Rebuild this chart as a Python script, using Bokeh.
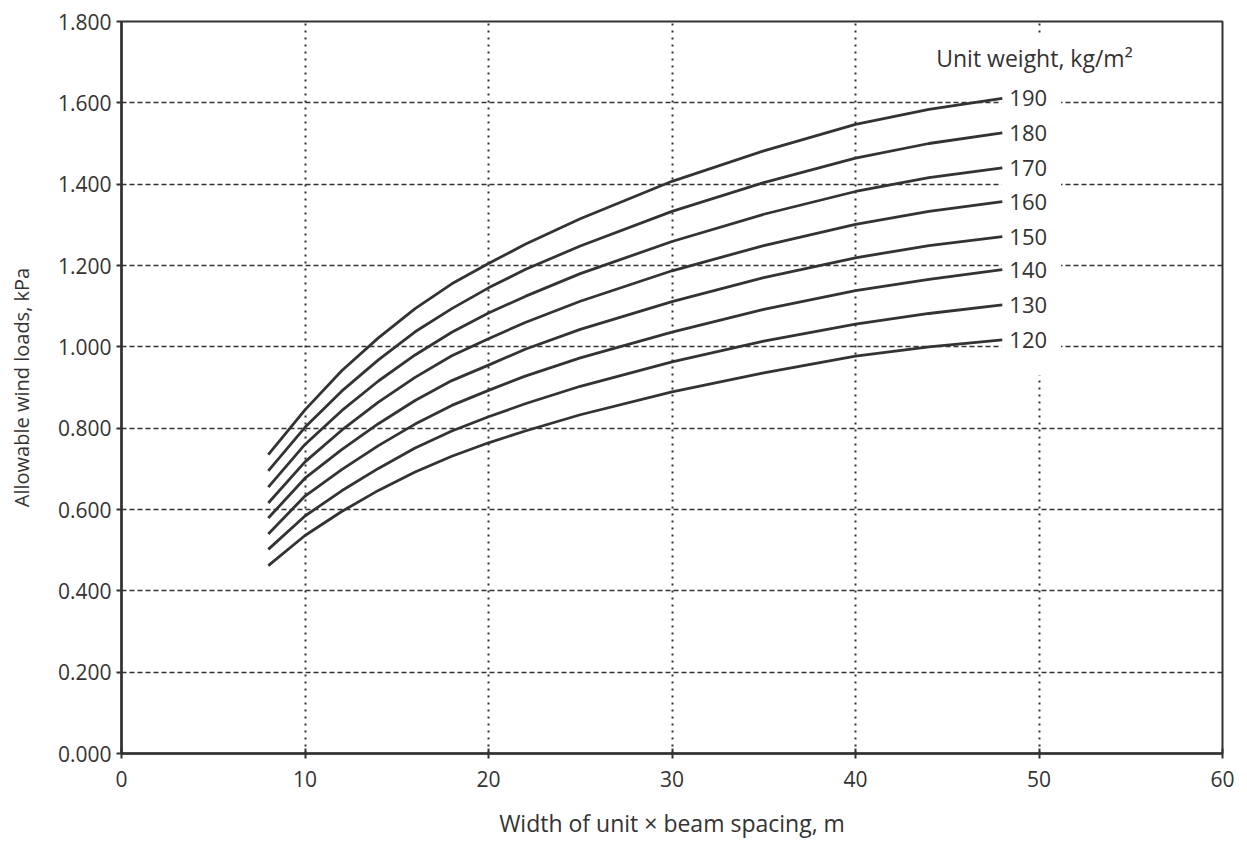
from bokeh.plotting import figure
from bokeh.models import (ColumnDataSource, LabelSet, Label, BoxAnnotation,
                          FixedTicker, NumeralTickFormatter)
from bokeh.core.properties import value
from bokeh.embed import file_html
from bokeh.resources import INLINE

# ---- data ----
x_span = [8, 10, 12, 14, 16, 18, 20, 22, 25, 30, 35, 40, 44, 48]
w190 = [0.735, 0.845, 0.941, 1.022, 1.094, 1.155, 1.205, 1.252, 1.315, 1.407, 1.482, 1.547, 1.584, 1.611]
w180 = [0.695, 0.802, 0.891, 0.968, 1.037, 1.094, 1.145, 1.190, 1.248, 1.333, 1.404, 1.464, 1.500, 1.526]
w170 = [0.655, 0.760, 0.843, 0.916, 0.980, 1.036, 1.083, 1.124, 1.180, 1.259, 1.326, 1.382, 1.416, 1.440]
w160 = [0.616, 0.717, 0.795, 0.864, 0.925, 0.978, 1.020, 1.060, 1.112, 1.187, 1.249, 1.301, 1.333, 1.357]
w150 = [0.579, 0.677, 0.747, 0.811, 0.868, 0.917, 0.955, 0.994, 1.043, 1.111, 1.170, 1.219, 1.249, 1.271]
w140 = [0.540, 0.633, 0.698, 0.757, 0.810, 0.856, 0.893, 0.928, 0.973, 1.036, 1.092, 1.138, 1.166, 1.190]
w130 = [0.502, 0.584, 0.646, 0.701, 0.751, 0.793, 0.828, 0.860, 0.903, 0.963, 1.014, 1.056, 1.082, 1.103]
w120 = [0.462, 0.536, 0.595, 0.647, 0.692, 0.731, 0.764, 0.793, 0.833, 0.889, 0.936, 0.977, 1.000, 1.017]

weights = ["190", "180", "170", "160", "150", "140", "130", "120"]
series = [w190, w180, w170, w160, w150, w140, w130, w120]

x_ticks = [0, 10, 20, 30, 40, 50, 60]
y_ticks = [0.0, 0.2, 0.4, 0.6, 0.8, 1.0, 1.2, 1.4, 1.6, 1.8]

FONT = "Open Sans"
INK = "#333333"

p = figure(frame_width=1101, frame_height=732,
           x_range=(0, 60), y_range=(0, 1.8),
           output_backend="svg", toolbar_location=None,
           min_border_left=121, min_border_right=17,
           min_border_top=21, min_border_bottom=81)
p.background_fill_color = "white"
p.border_fill_color = "white"
p.outline_line_color = INK
p.outline_line_width = 2

# axes
for ax in (p.xaxis[0], p.yaxis[0]):
    ax.axis_line_color = INK
    ax.axis_line_width = 2.5
    ax.major_tick_line_color = INK
    ax.major_tick_line_width = 2
    ax.minor_tick_line_color = None
    ax.major_label_text_font = FONT
    ax.major_label_text_color = INK
    ax.major_label_text_font_size = "21px"
    ax.axis_label_text_font = FONT
    ax.axis_label_text_color = INK
    ax.axis_label_text_font_style = "normal"

p.xaxis.ticker = FixedTicker(ticks=x_ticks)
p.yaxis.ticker = FixedTicker(ticks=y_ticks)
p.yaxis.formatter = NumeralTickFormatter(format="0.000")
p.xaxis.major_tick_in = 5
p.xaxis.major_tick_out = 5
p.yaxis.major_tick_in = 0
p.yaxis.major_tick_out = 5
p.xaxis.major_label_standoff = 12
p.yaxis.major_label_standoff = 5
p.xaxis.axis_label = "Width of unit \u00d7 beam spacing, m"
p.yaxis.axis_label = "Allowable wind loads, kPa"
p.xaxis.axis_label_text_font_size = "23px"
p.yaxis.axis_label_text_font_size = "20px"
p.xaxis.axis_label_standoff = 17
p.yaxis.axis_label_standoff = 20

# grid
p.ygrid.grid_line_color = INK
p.ygrid.grid_line_width = 1.6
p.ygrid.grid_line_dash = "5 3"
p.xgrid.grid_line_color = INK
p.xgrid.grid_line_width = 2
p.xgrid.grid_line_dash = "2 5"

# white space behind the curve labels (gridlines are interrupted there)
mask = BoxAnnotation(left=47.95, right=51.2, bottom=0.93, top=1.77,
                     fill_color="white", fill_alpha=1.0, line_color=None,
                     level="underlay")
p.add_layout(mask)

for vals in series:
    p.line(x_span, vals, line_color=INK, line_width=2.8, line_join="round")

lab_src = ColumnDataSource(dict(x=[x_span[-1]] * len(series),
                                y=[s[-1] for s in series],
                                t=weights))
p.add_layout(LabelSet(x="x", y="y", text="t", source=lab_src,
                      x_offset=7, text_baseline="middle",
                      text_font=value(FONT), text_font_size=value("22px"),
                      text_color=INK))

p.add_layout(Label(x=44.4, y=1.71, text="Unit weight, kg/m\u00b2",
                   text_baseline="middle", text_font=FONT,
                   text_font_size="23px", text_color=INK))

open("out.html", "w").write(file_html(p, INLINE))
